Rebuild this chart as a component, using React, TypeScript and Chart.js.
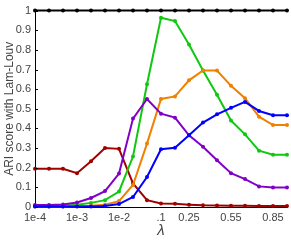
import React, { useEffect, useRef } from "react";
import { Chart, registerables } from "chart.js";

Chart.register(...registerables);

const lambdas = ["1e-4", "2e-4", "5e-4", "1e-3", "2e-3", "5e-3", "1e-2", "2e-2", "5e-2", ".1", "0.15", "0.25", "0.35", "0.45", "0.55", "0.65", "0.75", "0.85", "0.95"];
const shownTicks = ["1e-4", "1e-3", "1e-2", ".1", "0.25", "0.55", "0.85"];

const blackSeries = [1, 1, 1, 1, 1, 1, 1, 1, 1, 1, 1, 1, 1, 1, 1, 1, 1, 1, 1];
const redSeries = [0.195, 0.195, 0.195, 0.172, 0.233, 0.3, 0.296, 0.12, 0.035, 0.018, 0.016, 0.012, 0.009, 0.008, 0.007, 0.006, 0.005, 0.005, 0.005];
const purpleSeries = [0.01, 0.01, 0.013, 0.023, 0.046, 0.081, 0.17, 0.45, 0.55, 0.475, 0.455, 0.365, 0.307, 0.238, 0.172, 0.142, 0.105, 0.099, 0.099];
const greenSeries = [0.005, 0.005, 0.006, 0.011, 0.021, 0.035, 0.079, 0.257, 0.625, 0.964, 0.947, 0.827, 0.695, 0.571, 0.44, 0.37, 0.287, 0.266, 0.266];
const orangeSeries = [0.003, 0.003, 0.003, 0.004, 0.006, 0.011, 0.03, 0.112, 0.323, 0.55, 0.563, 0.645, 0.695, 0.695, 0.617, 0.554, 0.46, 0.417, 0.417];
const blueSeries = [0.002, 0.002, 0.002, 0.002, 0.003, 0.005, 0.015, 0.051, 0.153, 0.294, 0.302, 0.365, 0.43, 0.472, 0.505, 0.535, 0.489, 0.467, 0.467];
const yTicks = [0, 0.1, 0.2, 0.3, 0.4, 0.5, 0.6, 0.7, 0.8, 0.9, 1];

const TEXT = "#444";

function ds(data: number[], color: string, order: number) {
  return {
    data,
    borderColor: color,
    backgroundColor: color,
    borderWidth: 2,
    pointRadius: 2,
    pointBorderWidth: 0,
    pointBackgroundColor: color,
    tension: 0,
    clip: false as any,
    order,
  };
}

const inwardTicks = {
  id: "inwardTicks",
  afterDatasetsDraw(chart: any) {
    const y = chart.scales.y;
    const ctx = chart.ctx;
    ctx.save();
    ctx.strokeStyle = "#000";
    ctx.lineWidth = 1;
    ctx.beginPath();
    for (const t of yTicks) {
      const py = Math.round(y.getPixelForValue(t)) + 0.5;
      ctx.moveTo(chart.chartArea.left, py);
      ctx.lineTo(chart.chartArea.left + 3, py);
    }
    ctx.stroke();
    ctx.restore();
  },
};

export default function App() {
  const ref = useRef<HTMLCanvasElement>(null);
  useEffect(() => {
    if (!ref.current) return;
    const chart = new Chart(ref.current, {
      type: "line",
      data: {
        labels: lambdas,
        datasets: [
          ds(blackSeries, "#000000", 0),
          ds(blueSeries, "#0000ff", 1),
          ds(purpleSeries, "#8000c8", 2),
          ds(orangeSeries, "#f08000", 3),
          ds(greenSeries, "#10c810", 4),
          ds(redSeries, "#a00000", 5),
        ],
      },
      options: {
        animation: false,
        responsive: false,
        maintainAspectRatio: false,
        layout: { padding: { top: 5, right: 2, left: 0, bottom: 0 } },
        plugins: { legend: { display: false }, tooltip: { enabled: false } },
        scales: {
          x: {
            type: "category",
            offset: false,
            grid: { display: false, drawTicks: false },
            border: { display: true, color: "#000", width: 1 },
            afterBuildTicks: (scale: any) => {
              scale.ticks = scale.ticks.filter((t: any) => shownTicks.includes(lambdas[t.value]));
            },
            afterFit: (scale: any) => {
              scale.height = 33;
            },
            ticks: {
              autoSkip: false,
              maxRotation: 0,
              padding: 4,
              color: TEXT,
              font: { family: "Liberation Sans, Arial, sans-serif", size: 11 },
              callback: function (this: any, value: any) {
                return lambdas[value as number];
              },
            },
            title: {
              display: true,
              text: "λ",
              color: TEXT,
              padding: 0,
              font: { family: "Liberation Sans, Arial, sans-serif", size: 15, style: "italic" },
            },
          },
          y: {
            min: 0,
            max: 1,
            grid: { display: false, drawTicks: false },
            border: { display: true, color: "#000", width: 1 },
            afterBuildTicks: (scale: any) => {
              scale.ticks = yTicks.map((v) => ({ value: v }));
            },
            afterFit: (scale: any) => {
              scale.width = 35;
            },
            ticks: {
              padding: 4,
              color: TEXT,
              font: { family: "Liberation Sans, Arial, sans-serif", size: 11 },
              callback: (v: any) => String(v),
            },
            title: {
              display: true,
              text: "ARI score with Lam-Louv",
              color: TEXT,
              padding: 2,
              font: { family: "Liberation Sans, Arial, sans-serif", size: 12 },
            },
          },
        },
      },
      plugins: [inwardTicks],
    });
    return () => chart.destroy();
  }, []);
  return (
    <div style={{ position: "absolute", left: 0, top: 0, width: 291, height: 240 }}>
      <canvas ref={ref} width={291} height={240} style={{ width: 291, height: 240, display: "block" }} />
    </div>
  );
}
